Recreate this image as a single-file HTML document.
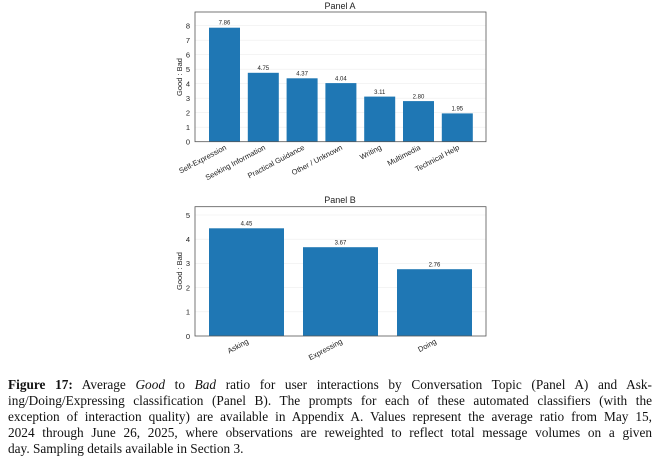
<!DOCTYPE html>
<html><head><style>
body{margin:0;background:#fff;width:660px;height:462px;overflow:hidden;position:relative}
svg{position:absolute;left:0;top:0}
.cap{position:absolute;left:8px;width:644px;font-family:"Liberation Serif",serif;font-size:13.3px;color:#111;white-space:nowrap;text-align:justify;text-align-last:justify}
</style></head><body>
<svg width="660" height="370" font-family="Liberation Sans, sans-serif">
<!-- Panel A -->
<text x="340" y="9" font-size="9" text-anchor="middle" fill="#222">Panel A</text>
<g stroke="#eee" stroke-width="0.6">
<line x1="195" x2="486" y1="127.2" y2="127.2"/><line x1="195" x2="486" y1="112.7" y2="112.7"/><line x1="195" x2="486" y1="98.2" y2="98.2"/><line x1="195" x2="486" y1="83.7" y2="83.7"/><line x1="195" x2="486" y1="69.2" y2="69.2"/><line x1="195" x2="486" y1="54.7" y2="54.7"/><line x1="195" x2="486" y1="40.2" y2="40.2"/><line x1="195" x2="486" y1="25.7" y2="25.7"/>
</g>
<g fill="#1f77b4">
<rect x="209" y="27.7" width="31" height="114"/>
<rect x="247.8" y="72.8" width="31" height="68.9"/>
<rect x="286.6" y="78.3" width="31" height="63.4"/>
<rect x="325.4" y="83.1" width="31" height="58.6"/>
<rect x="364.2" y="96.6" width="31" height="45.1"/>
<rect x="403" y="101.1" width="31" height="40.6"/>
<rect x="441.8" y="113.4" width="31" height="28.3"/>
</g>
<g font-size="6" text-anchor="middle" fill="#222">
<text x="224.5" y="24.5">7.86</text><text x="263.3" y="70">4.75</text><text x="302.1" y="75.5">4.37</text><text x="340.9" y="80.3">4.04</text><text x="379.7" y="93.8">3.11</text><text x="418.5" y="98.3">2.80</text><text x="457.3" y="110.6">1.95</text>
</g>
<rect x="195" y="12" width="291" height="129.7" fill="none" stroke="#555" stroke-width="0.8"/>
<g font-size="7.5" text-anchor="end" fill="#222">
<text x="190" y="144.5">0</text><text x="190" y="130">1</text><text x="190" y="115.5">2</text><text x="190" y="101">3</text><text x="190" y="86.5">4</text><text x="190" y="72">5</text><text x="190" y="57.5">6</text><text x="190" y="43">7</text><text x="190" y="28.5">8</text>
</g>
<text transform="translate(182,77) rotate(-90)" font-size="7.5" text-anchor="middle" fill="#222">Good : Bad</text>
<g font-size="7.5" text-anchor="end" fill="#222">
<text transform="translate(227,149) rotate(-28)">Self-Expression</text>
<text transform="translate(266,149) rotate(-28)">Seeking Information</text>
<text transform="translate(305,149) rotate(-28)">Practical Guidance</text>
<text transform="translate(343,149) rotate(-28)">Other / Unknown</text>
<text transform="translate(382,149) rotate(-28)">Writing</text>
<text transform="translate(421,149) rotate(-28)">Multimedia</text>
<text transform="translate(460,149) rotate(-28)">Technical Help</text>
</g>
<!-- Panel B -->
<text x="340" y="203" font-size="9" text-anchor="middle" fill="#222">Panel B</text>
<g stroke="#eee" stroke-width="0.6">
<line x1="195" x2="486" y1="311.8" y2="311.8"/><line x1="195" x2="486" y1="287.6" y2="287.6"/><line x1="195" x2="486" y1="263.4" y2="263.4"/><line x1="195" x2="486" y1="239.2" y2="239.2"/><line x1="195" x2="486" y1="215" y2="215"/>
</g>
<g fill="#1f77b4">
<rect x="209" y="228.3" width="75" height="107.7"/>
<rect x="303" y="247.2" width="75" height="88.8"/>
<rect x="397" y="269.2" width="75" height="66.8"/>
</g>
<g font-size="6" text-anchor="middle" fill="#222">
<text x="246.5" y="225.5">4.45</text><text x="340.5" y="244.5">3.67</text><text x="434.5" y="266.5">2.76</text>
</g>
<rect x="195" y="206.7" width="291" height="129.3" fill="none" stroke="#555" stroke-width="0.8"/>
<g font-size="7.5" text-anchor="end" fill="#222">
<text x="190" y="338.8">0</text><text x="190" y="314.6">1</text><text x="190" y="290.4">2</text><text x="190" y="266.2">3</text><text x="190" y="242">4</text><text x="190" y="217.8">5</text>
</g>
<text transform="translate(182,271) rotate(-90)" font-size="7.5" text-anchor="middle" fill="#222">Good : Bad</text>
<g font-size="7.5" text-anchor="end" fill="#222">
<text transform="translate(249,343) rotate(-28)">Asking</text>
<text transform="translate(343,343) rotate(-28)">Expressing</text>
<text transform="translate(437,343) rotate(-28)">Doing</text>
</g>
</svg>
<div class="cap" style="top:377px"><b>Figure 17:</b> Average <i>Good</i> to <i>Bad</i> ratio for user interactions by Conversation Topic (Panel A) and Ask-</div>
<div class="cap" style="top:393px">ing/Doing/Expressing classification (Panel B). The prompts for each of these automated classifiers (with the</div>
<div class="cap" style="top:409px">exception of interaction quality) are available in Appendix A. Values represent the average ratio from May 15,</div>
<div class="cap" style="top:425px">2024 through June 26, 2025, where observations are reweighted to reflect total message volumes on a given</div>
<div class="cap" style="top:441px;text-align-last:left">day. Sampling details available in Section 3.</div>
</body></html>
